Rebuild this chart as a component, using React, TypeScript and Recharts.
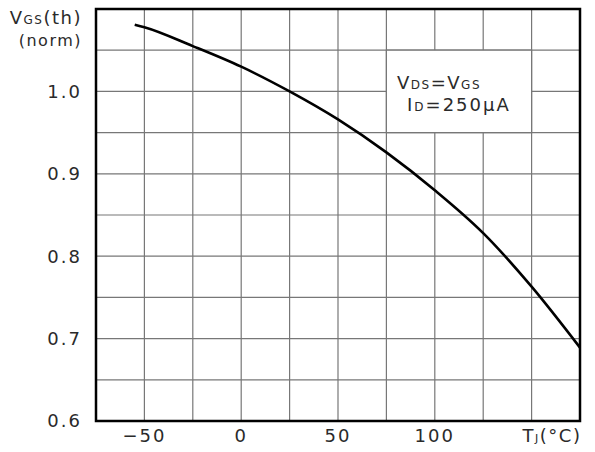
import {
  CartesianGrid,
  Line,
  LineChart,
  ReferenceArea,
  XAxis,
  YAxis,
} from 'recharts'

// junction temperature (°C) vs normalised gate threshold voltage
const temps = [-55, -50, -25, 0, 25, 50, 75, 100, 125, 150, 175]
const vthNorm = [1.081, 1.078, 1.055, 1.03, 1.0, 0.966, 0.926, 0.88, 0.828, 0.763, 0.689]

const xTicks = [-75, -50, -25, 0, 25, 50, 75, 100, 125, 150, 175]
const xLabels = ['', '\u221250', '', '0', '', '50', '', '100', '', 'TJ', '']
const yTicks = [0.6, 0.65, 0.7, 0.75, 0.8, 0.85, 0.9, 0.95, 1.0, 1.05, 1.1]
const yLabels = ['0.6', '', '0.7', '', '0.8', '', '0.9', '', '1.0', '', '']

const FONT = '"DejaVu Sans", sans-serif'
const INK = '#2a2a2a'
const GRID = '#777'

const chartData = temps.map((t, i) => ({ t, v: vthNorm[i] }))

function XTick(props: { x: number; y: number; index: number }) {
  const label = xLabels[props.index]
  if (!label) return null
  if (label === 'TJ') {
    return (
      <text x={props.x - 9} y={props.y} dy="0.71em" textAnchor="start" fontFamily={FONT} fontSize={18} fill={INK} letterSpacing={1.5}>
        T<tspan fontSize={11}>J</tspan>(°C)
      </text>
    )
  }
  return (
    <text x={props.x} y={props.y} dy="0.71em" textAnchor="middle" fontFamily={FONT} fontSize={18} fill={INK} letterSpacing={2}>
      {label}
    </text>
  )
}

function YTick(props: { x: number; y: number; index: number }) {
  const label = yLabels[props.index]
  if (!label) return null
  return (
    <text x={props.x} y={props.y} dy="0.36em" textAnchor="end" fontFamily={FONT} fontSize={18} fill={INK} letterSpacing={2}>
      {label}
    </text>
  )
}

export default function App() {
  return (
    <div style={{ position: 'absolute', left: 0, top: 0, width: 595, height: 452, background: '#fff' }}>
      <LineChart
        width={595}
        height={452}
        data={chartData}
        margin={{ top: 9, right: 15, bottom: 0, left: 0 }}
      >
        <CartesianGrid stroke={GRID} strokeWidth={1.2} horizontalValues={yTicks} verticalValues={xTicks} />
        <XAxis
          dataKey="t"
          type="number"
          domain={[-75, 175]}
          ticks={xTicks}
          interval={0}
          axisLine={false}
          tickLine={false}
          tickSize={0}
          tickMargin={8}
          height={31}
          tick={XTick}
        />
        <YAxis
          type="number"
          domain={[0.6, 1.1]}
          ticks={yTicks}
          interval={0}
          axisLine={false}
          tickLine={false}
          tickSize={0}
          tickMargin={14}
          width={96}
          tick={YTick}
        />
        {/* blank cell block behind the test conditions */}
        <ReferenceArea
          x1={75}
          x2={150}
          y1={0.95}
          y2={1.05}
          fill="#fff"
          fillOpacity={1}
          stroke={GRID}
          strokeWidth={1.2}
        />
        <ReferenceArea
          x1={-75}
          x2={175}
          y1={0.6}
          y2={1.1}
          fill="none"
          stroke="#000"
          strokeWidth={2.5}
          ifOverflow="visible"
        />
        <Line
          type="monotone"
          dataKey="v"
          stroke="#000"
          strokeWidth={2.6}
          dot={false}
          isAnimationActive={false}
        />
      </LineChart>
      <svg width={595} height={452} style={{ position: 'absolute', left: 0, top: 0, pointerEvents: 'none' }}>
        <g fontFamily={FONT} fill={INK}>
          <text x={82} y={24} textAnchor="end" fontSize={18} letterSpacing={1.5}>
            V<tspan fontSize={12}>GS</tspan>(th)
          </text>
          <text x={82} y={46} textAnchor="end" fontSize={16} letterSpacing={1.5}>
            (norm)
          </text>
          <text x={397} y={89} fontSize={18} letterSpacing={1.5}>
            V<tspan fontSize={12}>DS</tspan>=V<tspan fontSize={12}>GS</tspan>
          </text>
          <text x={407} y={111} fontSize={18} letterSpacing={2}>
            I<tspan fontSize={12}>D</tspan>=250μA
          </text>
        </g>
      </svg>
    </div>
  )
}
